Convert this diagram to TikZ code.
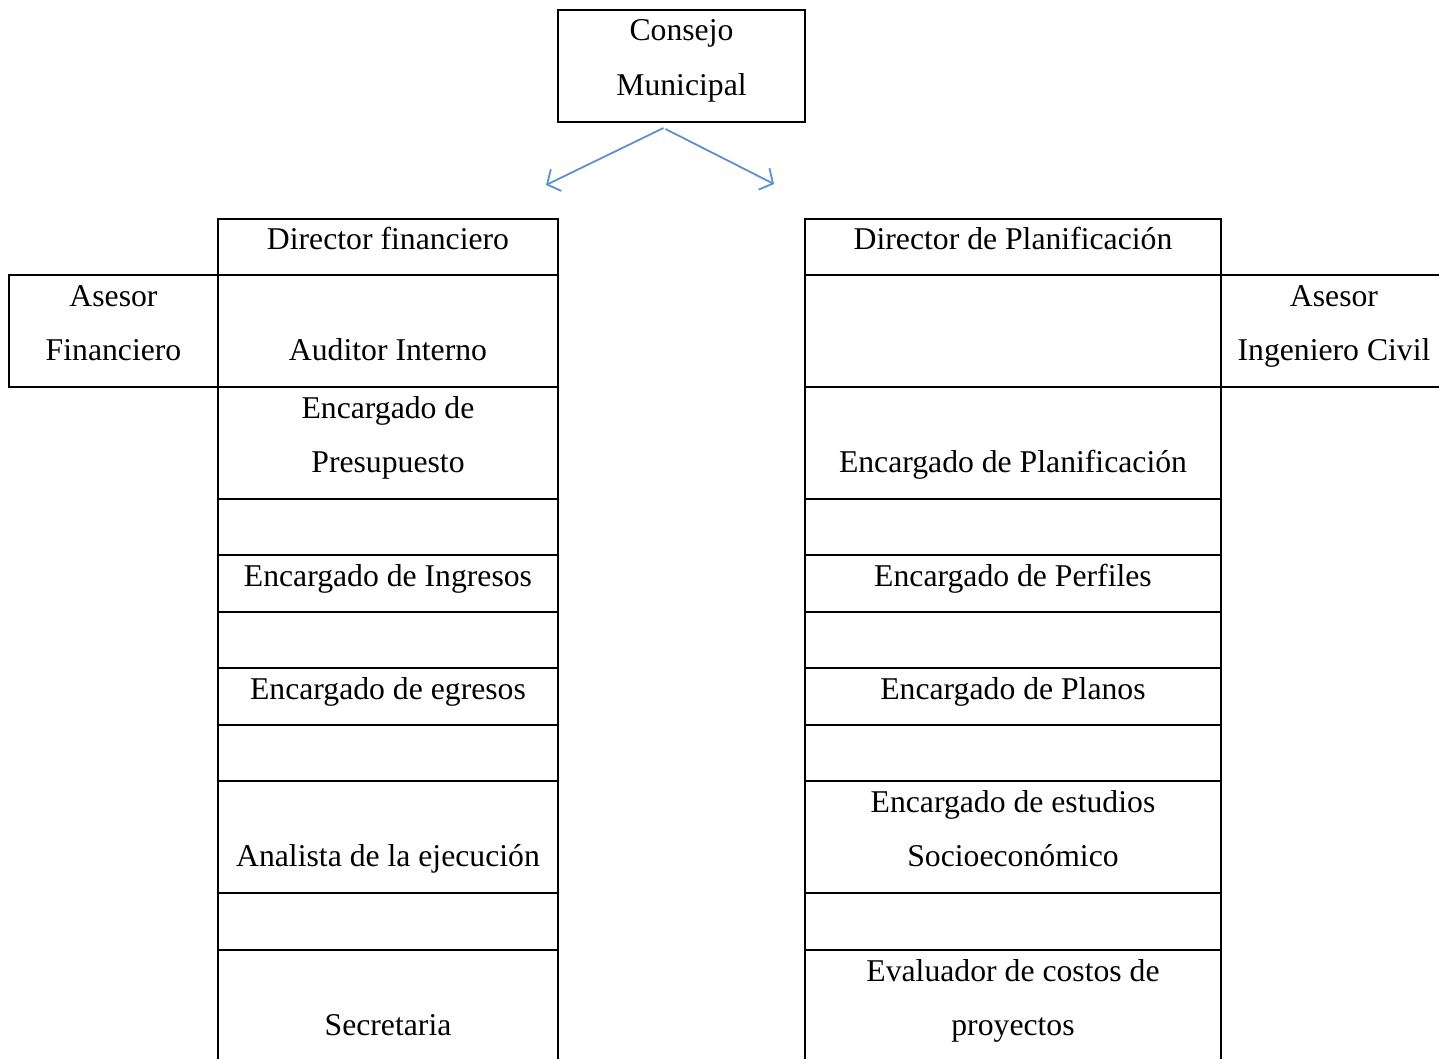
\documentclass[tikz,border=0pt]{standalone}
\usepackage{fontspec}
\setmainfont{Liberation Serif}
\usetikzlibrary{arrows.meta,calc}
\definecolor{arrowblue}{RGB}{91,145,205}
\begin{document}
\begin{tikzpicture}[x=1pt,y=-1pt,
  cellbox/.style={draw, line width=2pt, anchor=north west, inner sep=0pt, outer sep=0pt},
  txt/.style={anchor=base, inner sep=0pt, font=\fontsize{31.7}{38}\selectfont},
  conn/.style={draw=arrowblue, line width=1.8pt, -{Straight Barb[length=10pt,width=24pt,line width=1.8pt]}}]
\useasboundingbox (0,0) rectangle (1439,1059);
\clip (0,0) rectangle (1439,1059);
% top box
\node[cellbox, minimum width=247pt, minimum height=112pt] (cm) at (558,10) {};
\node[txt] (cm1) at ([yshift=-31pt]cm.north) {Consejo};
\node[txt] (cm2) at ([yshift=-85.5pt]cm.north) {Municipal};
% arrows
\coordinate (al) at (546,185);
\coordinate (ar) at (774,184);
\draw[conn] ([xshift=-18pt,yshift=-6pt]cm.south) -- (al);
\draw[conn] ([xshift=-16pt,yshift=-7pt]cm.south) -- (ar);
% table cells
\foreach \i/\t/\h in {1/219/56,2/275/112,3/387/112,4/499/56,5/555/57,6/612/56,7/668/57,8/725/56,9/781/112,10/893/57,11/950/130}{
  \node[cellbox, minimum width=340pt, minimum height=\h pt] (L\i) at (218,\t) {};
  \node[cellbox, minimum width=416pt, minimum height=\h pt] (R\i) at (805,\t) {};
}
\node[cellbox, minimum width=209pt, minimum height=112pt] (AF) at (9,275) {};
\node[cellbox, minimum width=226pt, minimum height=112pt] (AI) at (1221,275) {};
% left texts
\node[txt] (tL1) at ([yshift=-31pt]L1.north) {Director financiero};
\node[txt] (tL2) at ([yshift=-85.5pt]L2.north) {Auditor Interno};
\node[txt] (tL3a) at ([yshift=-31pt]L3.north) {Encargado de};
\node[txt] (tL3b) at ([yshift=-85.5pt]L3.north) {Presupuesto};
\node[txt] (tL5) at ([yshift=-31pt]L5.north) {Encargado de Ingresos};
\node[txt] (tL7) at ([yshift=-31pt]L7.north) {Encargado de egresos};
\node[txt] (tL9) at ([yshift=-85.5pt]L9.north) {Analista de la ejecución};
\node[txt] (tL11) at ([yshift=-85.5pt]L11.north) {Secretaria};
% right texts
\node[txt] (tR1) at ([yshift=-31pt]R1.north) {Director de Planificación};
\node[txt] (tR3) at ([yshift=-85.5pt]R3.north) {Encargado de Planificación};
\node[txt] (tR5) at ([yshift=-31pt]R5.north) {Encargado de Perfiles};
\node[txt] (tR7) at ([yshift=-31pt]R7.north) {Encargado de Planos};
\node[txt] (tR9a) at ([yshift=-31pt]R9.north) {Encargado de estudios};
\node[txt] (tR9b) at ([yshift=-85.5pt]R9.north) {Socioeconómico};
\node[txt] (tR11a) at ([yshift=-31pt]R11.north) {Evaluador de costos de};
\node[txt] (tR11b) at ([yshift=-85.5pt]R11.north) {proyectos};
% advisers
\node[txt] (tAF1) at ([yshift=-31pt]AF.north) {Asesor};
\node[txt] (tAF2) at ([yshift=-85.5pt]AF.north) {Financiero};
\node[txt] (tAI1) at ([yshift=-31pt]AI.north) {Asesor};
\node[txt] (tAI2) at ([yshift=-85.5pt]AI.north) {Ingeniero Civil};
\end{tikzpicture}
\end{document}
